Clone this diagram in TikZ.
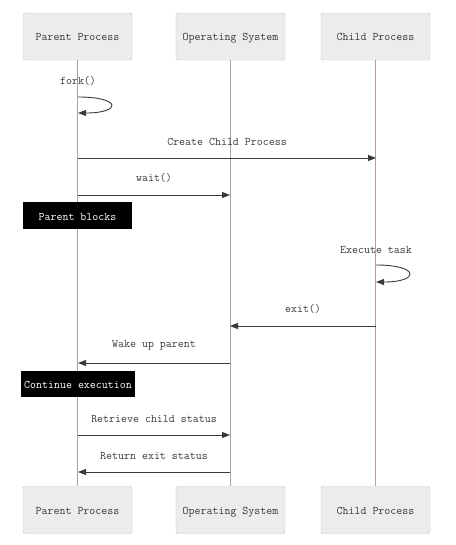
\documentclass[tikz,border=0pt]{standalone}
\usepackage{fontspec}
\usetikzlibrary{arrows.meta}
\usetikzlibrary{positioning}
\definecolor{boxfill}{HTML}{EDECEC}
\definecolor{boxline}{HTML}{C8C2C2}
\definecolor{lifeline}{HTML}{B09F9F}
\definecolor{msgline}{HTML}{3A3A3A}
\newcommand{\seqfont}{\ttfamily\fontsize{11.6}{13}\selectfont}
\tikzset{
    actor/.style={draw=boxline, fill=boxfill, rounded corners=1.5pt, minimum width=109pt, minimum height=47pt, font=\seqfont, text=msgline, text height=10pt, text depth=1pt},
    note/.style={fill=black, text=white, font=\seqfont, minimum width=109pt, minimum height=27pt, inner xsep=3pt, text height=10pt, text depth=1pt},
    msg/.style={draw=msgline, line width=0.9pt, -{Triangle[length=8pt,width=6pt]}},
    msglabel/.style={font=\seqfont, text=msgline},
    life/.style={draw=lifeline, line width=1.2pt},
}

\begin{document}
\begin{tikzpicture}[x=1pt, y=-1pt]

    \useasboundingbox (0,0) rectangle (455,545);

    % Actors (top)
    \node[actor] (parent) at (77.5,36.5) {Parent Process};
    \node[actor] (os) at (230.5,36.5) {Operating System};
    \node[actor] (child) at (375.5,36.5) {Child Process};

    % Actors (bottom)
    \node[actor] (parent bot) at (77.5,510) {Parent Process};
    \node[actor] (os bot) at (230.5,510) {Operating System};
    \node[actor] (child bot) at (375.5,510) {Child Process};

    % Lifelines
    \draw[life] (parent) -- (parent bot);
    \draw[life] (os) -- (os bot);
    \draw[life] (child) -- (child bot);

    % Message end points
    \coordinate (fork a) at (78,97);
    \coordinate (fork b) at (78,113);
    \coordinate (create a) at (78,158);
    \coordinate (create b) at (376,158);
    \coordinate (wait a) at (78,195);
    \coordinate (wait b) at (230,195);
    \coordinate (task a) at (376,265);
    \coordinate (task b) at (376,282);
    \coordinate (exit a) at (376,326);
    \coordinate (exit b) at (230,326);
    \coordinate (wake a) at (230,363);
    \coordinate (wake b) at (78,363);
    \coordinate (status a) at (78,435);
    \coordinate (status b) at (230,435);
    \coordinate (return a) at (230,472);
    \coordinate (return b) at (78,472);

    % Messages
    \node[msglabel] (fork label) at (78,81) {fork()};
    \draw[msg] (fork a) .. controls (122,97) and (122,113) .. (fork b);

    \draw[msg] (create a) -- node[msglabel, midway, above=9pt] {Create Child Process} (create b);
    \draw[msg] (wait a) -- node[msglabel, midway, above=9pt] {wait()} (wait b);

    \node[note] (blocks) at (77.5,215.5) {Parent blocks};

    \node[msglabel] (task label) at (376,250) {Execute task};
    \draw[msg] (task a) .. controls (420,265) and (420,282) .. (task b);

    \draw[msg] (exit a) -- node[msglabel, midway, above=9pt] {exit()} (exit b);
    \draw[msg] (wake a) -- node[msglabel, midway, above=9pt] {Wake up parent} (wake b);

    \node[note, minimum width=114pt, minimum height=26pt, inner xsep=1pt] (continue) at (78,384) {Continue execution};

    \draw[msg] (status a) -- node[msglabel, midway, above=9pt] {Retrieve child status} (status b);
    \draw[msg] (return a) -- node[msglabel, midway, above=9pt] {Return exit status} (return b);

\end{tikzpicture}
\end{document}
